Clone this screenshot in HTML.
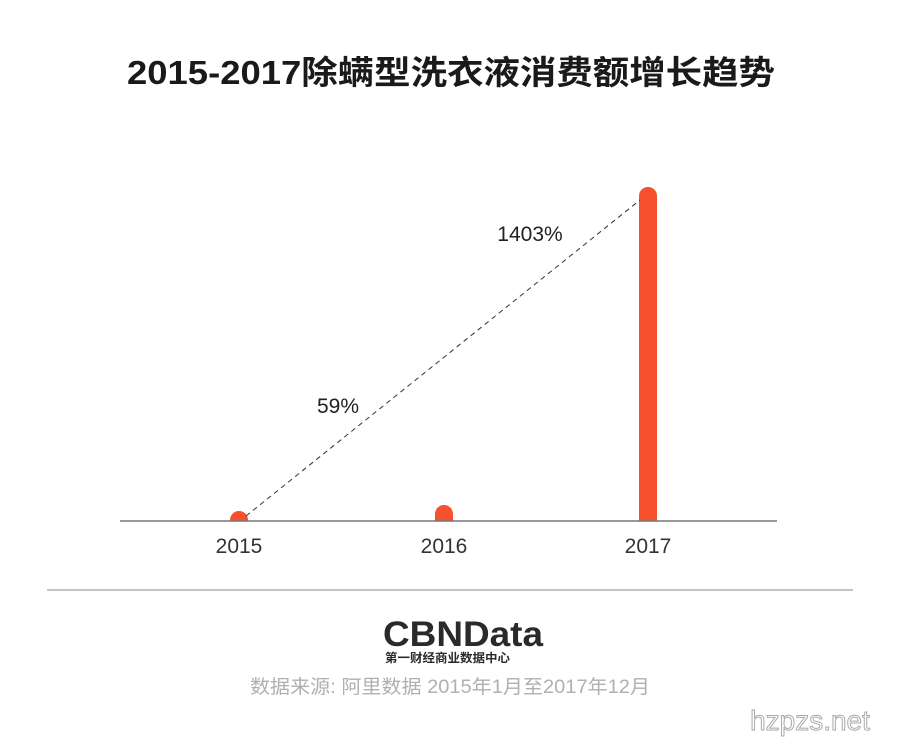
<!DOCTYPE html>
<html><head><meta charset="utf-8"><style>
body{margin:0;background:#fff;}
svg text{font-family:"Liberation Sans","Noto Sans CJK SC",sans-serif;}
</style></head><body>
<svg width="900" height="745" viewBox="0 0 900 745">
<rect width="900" height="745" fill="#fff"/>
<text x="127" y="84" font-size="33" font-weight="bold" fill="#1a1a1a" textLength="648" lengthAdjust="spacingAndGlyphs">2015-2017除螨型洗衣液消费额增长趋势</text>
<path d="M230 521 V520 a9 9 0 0 1 18 0 V521 Z" fill="#f4512c"/>
<path d="M435 521 V514 a9 9 0 0 1 18 0 V521 Z" fill="#f4512c"/>
<path d="M639 521 V196 a9 9 0 0 1 18 0 V521 Z" fill="#f4512c"/>
<line x1="120" y1="521" x2="777" y2="521" stroke="#777" stroke-width="1.5"/>
<line x1="246" y1="516" x2="640" y2="200" stroke="#333" stroke-width="1" stroke-dasharray="5,4"/>
<text x="530" y="241" text-anchor="middle" font-size="21" fill="#222">1403%</text>
<text x="338" y="413" text-anchor="middle" font-size="21" fill="#222">59%</text>
<text x="239" y="553" text-anchor="middle" font-size="21" fill="#333">2015</text>
<text x="444" y="553" text-anchor="middle" font-size="21" fill="#333">2016</text>
<text x="648" y="553" text-anchor="middle" font-size="21" fill="#333">2017</text>
<line x1="47" y1="590" x2="853" y2="590" stroke="#888" stroke-width="1"/>
<text x="383" y="646" font-size="35" font-weight="bold" fill="#2a2a2a" textLength="160" lengthAdjust="spacingAndGlyphs">CBNData</text>
<text x="385" y="662" font-size="12" font-weight="bold" fill="#2a2a2a" textLength="125" lengthAdjust="spacingAndGlyphs">第一财经商业数据中心</text>
<text x="250" y="693" font-size="19" fill="#b0b0b0" textLength="400" lengthAdjust="spacingAndGlyphs">数据来源: 阿里数据  2015年1月至2017年12月</text>
<text x="810" y="730" text-anchor="middle" font-size="28" fill="#fff" stroke="#aaa" stroke-width="1" font-family="Liberation Serif,serif">hzpzs.net</text>
</svg>
</body></html>
